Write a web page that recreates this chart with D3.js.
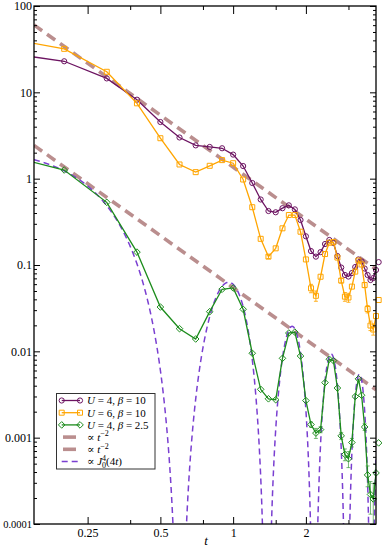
<!DOCTYPE html>
<html><head><meta charset="utf-8">
<script src="https://cdnjs.cloudflare.com/ajax/libs/d3/7.8.5/d3.min.js"></script>
<style>
body{margin:0;background:#fff}
svg{display:block}
svg text{font-family:"Liberation Serif","DejaVu Serif",serif !important;fill:#000}
</style>
</head><body>
<svg id="chart" width="382" height="547"></svg>
<script>
// ---------- data ----------
const tValues = [0.1,0.2,0.3,0.4,0.5,0.6,0.7,0.8,0.9,1.0,
                 1.1,1.2,1.3,1.4,1.5,1.6,1.7,1.8,1.9,2.0,
                 2.1,2.2,2.3,2.4,2.5,2.6,2.7,2.8,2.9,3.0,
                 3.1,3.2,3.3,3.4,3.5,3.6,3.7,3.8,3.9,4.0];
const seriesU4b10 = [30.1,22.9,14.5,8.22,4.53,3.0,2.43,2.33,2.25,1.90,
                     1.40,0.891,0.574,0.422,0.408,0.455,0.491,0.441,0.332,0.215,
                     0.145,0.125,0.141,0.175,0.195,0.18,0.127,0.0935,0.0766,0.0735,
                     0.0807,0.0948,0.116,0.11,0.091,0.0766,0.067,0.0706,0.0875,0.108];
const seriesU6b10 = [45.2,31.9,17.3,7.46,2.94,1.46,1.19,1.41,1.64,1.51,
                     0.978,0.467,0.201,0.125,0.156,0.266,0.379,0.379,0.243,0.116,
                     0.0537,0.044,0.0731,0.134,0.181,0.184,0.122,0.066,0.043,0.042,
                     0.0562,0.0838,0.1127,0.1014,0.0586,0.0309,0.0199,0.0179,0.0256,0.0393];
const seriesU4b25 = [2.06,1.26,0.532,0.141,0.0326,0.0183,0.0139,0.0288,0.0523,0.0542,
                     0.0307,0.0095,0.00363,0.00282,0.00275,0.0083,0.0163,0.0167,0.00883,0.00269,
                     0.00142,0.00113,0.00124,0.00434,0.0081,0.0078,0.00376,0.00105,0.00064,0.00057,
                     0.00088,0.003,0.0048,0.0031,0.00133,0.00037,0.00022,0.000195,0.00039,0.00087];
const errU4b10 = new Array(40).fill(0);
const errU6b10 = [0,0,0,0,0,0,0,0,0,0,
                  0,0,0,0.006,0,0,0,0,0,0,
                  0.006,0.006,0,0,0,0,0,0.004,0.005,0.005,
                  0,0,0,0,0.004,0.003,0.0025,0.0025,0,0];
const errU4b25 = [0,0,0,0,0,0,0,0,0,0,
                  0,0,0,0,0,0,0,0,0,0,
                  0.0001,0.00015,0.0001,0,0,0,0,0.0001,0.0001,0.00012,
                  0.0001,0,0,0,0.00012,0.0001,0.00009,0.0001,0.0001,0.0001];
const powerLawCoef = [1.36, 0.0547];   // two  ∝ t^-2 guides
const powerLawExp = [-2, -2];
const besselAmp = [2.4];               // ∝ J0^4(4t)
const besselArg = [4];
const xMajorTicks = [0.25, 0.5, 1, 2];
const xTickLabels = ["0.25", "0.5", "1", "2"];
const xMinorTicks = [0.375, 0.75, 1.5, 3];
const yMajorTicks = [1e-4, 1e-3, 1e-2, 1e-1, 1, 10, 100];
const yTickLabels = ["0.0001", "0.001", "0.01", "0.1", "1", "10", "100"];
const xDomain = [0.15, 3.9];
const yDomain = [1e-4, 100];

// ---------- layout ----------
const FONT = '"Liberation Serif","DejaVu Serif",serif';
const L = 34, R = 376, T = 6, B = 524;
const svg = d3.select("#chart");
const x = d3.scaleLog().domain(xDomain).range([L, R]);
const y = d3.scaleLog().domain(yDomain).range([B, T]);

svg.append("defs").append("clipPath").attr("id", "plotclip")
  .append("rect").attr("x", L).attr("y", T).attr("width", R - L).attr("height", B - T);

const COL_P = "#6c1361", COL_O = "#ffa500", COL_G = "#1c8c1c",
      COL_BR = "#ba8e8e", COL_V = "#7a3fd1";

// ---------- reference curves ----------
const refG = svg.append("g").attr("clip-path", "url(#plotclip)");
powerLawCoef.forEach((c, k) => {
  const pts = xDomain.map(t => [t, c * Math.pow(t, powerLawExp[k])]);
  refG.append("path")
    .attr("d", d3.line().x(d => x(d[0])).y(d => y(d[1]))(pts))
    .attr("fill", "none").attr("stroke", COL_BR).attr("stroke-width", 3.6)
    .attr("stroke-dasharray", "10,6");
});
function besselJ0(z) {
  let s = 0, term = 1; const q = -(z * z) / 4;
  for (let k = 0; k < 80; k++) { s += term; term *= q / ((k + 1) * (k + 1)); }
  return s;
}
const nS = 3000;
const besselPts = d3.range(nS + 1).map(i => {
  const t = Math.exp(Math.log(xDomain[0]) + (Math.log(xDomain[1]) - Math.log(xDomain[0])) * i / nS);
  const v = besselAmp[0] * Math.pow(besselJ0(besselArg[0] * t), 4);
  return [t, Math.max(v, 1e-12)];
});
refG.append("path")
  .attr("d", d3.line().x(d => x(d[0])).y(d => Math.min(y(d[1]), B + 40))(besselPts))
  .attr("fill", "none").attr("stroke", COL_V).attr("stroke-width", 1.5)
  .attr("stroke-dasharray", "6,4");

// ---------- data series ----------
const series = [
  {vals: seriesU4b10, err: errU4b10, color: COL_P, sym: "circle", errOpacity: 1},
  {vals: seriesU6b10, err: errU6b10, color: COL_O, sym: "square", errOpacity: 0.85},
  {vals: seriesU4b25, err: errU4b25, color: COL_G, sym: "diamond", errOpacity: 0.6}
];
function symbolPath(sym, cx, cy) {
  if (sym === "square") { const h = 2.5; return `M${cx-h},${cy-h}h${2*h}v${2*h}h${-2*h}Z`; }
  const h = 3.3; return `M${cx},${cy-h}L${cx+h},${cy}L${cx},${cy+h}L${cx-h},${cy}Z`;
}
function drawSymbol(g, sym, cx, cy, color) {
  if (sym === "circle") {
    g.append("circle").attr("cx", cx).attr("cy", cy).attr("r", 2.6)
      .attr("fill", "none").attr("stroke", color).attr("stroke-width", 1);
  } else {
    g.append("path").attr("d", symbolPath(sym, cx, cy))
      .attr("fill", "none").attr("stroke", color).attr("stroke-width", 1);
  }
}
series.forEach(s => {
  const data = tValues.map((t, i) => ({t, v: s.vals[i], e: s.err[i]}));
  svg.append("g").attr("clip-path", "url(#plotclip)").append("path")
    .attr("d", d3.line().x(d => x(d.t)).y(d => y(d.v))(data))
    .attr("fill", "none").attr("stroke", s.color).attr("stroke-width", 1.3);
  const gE = svg.append("g").attr("clip-path", "url(#plotclip)")
    .attr("stroke", s.color).attr("stroke-opacity", s.errOpacity).attr("stroke-width", 1);
  data.filter(d => d.e > 0).forEach(d => {
    const cx = x(d.t), y1 = y(d.v + d.e), y0 = y(Math.max(d.v - d.e, 1e-6));
    gE.append("line").attr("x1", cx).attr("x2", cx).attr("y1", y0).attr("y2", y1);
    gE.append("line").attr("x1", cx - 2).attr("x2", cx + 2).attr("y1", y0).attr("y2", y0);
    gE.append("line").attr("x1", cx - 2).attr("x2", cx + 2).attr("y1", y1).attr("y2", y1);
  });
  const gM = svg.append("g");
  data.filter(d => d.t >= xDomain[0]).forEach(d => drawSymbol(gM, s.sym, x(d.t), y(d.v), s.color));
});

// ---------- axes ----------
const yMinor = [];
for (let e = -4; e < 2; e++) for (let k = 2; k <= 9; k++) yMinor.push(k * Math.pow(10, e));

function styleAxis(g) {
  g.select(".domain").remove();
  g.attr("font-family", FONT);
  g.selectAll("line").attr("stroke", "#000");
}
svg.append("g").attr("transform", `translate(${L},0)`)
  .call(d3.axisLeft(y).tickValues(yMajorTicks).tickFormat((d, i) => yTickLabels[i])
        .tickSizeInner(-6).tickSizeOuter(0).tickPadding(2))
  .call(styleAxis)
  .call(g => g.selectAll("text").attr("font-size", (d, i) => i === 0 ? 10.5 : 12)
        .style("font-family", FONT));
svg.append("g").attr("transform", `translate(${L},0)`)
  .call(d3.axisLeft(y).tickValues(yMinor).tickFormat("").tickSizeInner(-3).tickSizeOuter(0))
  .call(styleAxis);
svg.append("g").attr("transform", `translate(${R},0)`)
  .call(d3.axisRight(y).tickValues(yMajorTicks).tickFormat("").tickSizeInner(-6).tickSizeOuter(0))
  .call(styleAxis);
svg.append("g").attr("transform", `translate(${R},0)`)
  .call(d3.axisRight(y).tickValues(yMinor).tickFormat("").tickSizeInner(-3).tickSizeOuter(0))
  .call(styleAxis);
svg.append("g").attr("transform", `translate(0,${B})`)
  .call(d3.axisBottom(x).tickValues(xMajorTicks).tickFormat((d, i) => xTickLabels[i])
        .tickSizeInner(-7).tickSizeOuter(0).tickPadding(4))
  .call(styleAxis)
  .call(g => g.selectAll("text").attr("font-size", 12).style("font-family", FONT));
svg.append("g").attr("transform", `translate(0,${B})`)
  .call(d3.axisBottom(x).tickValues(xMinorTicks).tickFormat("").tickSizeInner(-4).tickSizeOuter(0))
  .call(styleAxis);
svg.append("g").attr("transform", `translate(0,${T})`)
  .call(d3.axisTop(x).tickValues(xMajorTicks).tickFormat("").tickSizeInner(-8).tickSizeOuter(0))
  .call(styleAxis);
svg.append("g").attr("transform", `translate(0,${T})`)
  .call(d3.axisTop(x).tickValues(xMinorTicks).tickFormat("").tickSizeInner(-4).tickSizeOuter(0))
  .call(styleAxis);

svg.append("rect").attr("x", L).attr("y", T).attr("width", R - L).attr("height", B - T)
  .attr("fill", "none").attr("stroke", "#000").attr("stroke-width", 1.3);

svg.append("text").attr("x", 206).attr("y", 545).attr("text-anchor", "middle")
  .attr("font-size", 13).attr("font-style", "italic").style("font-family", FONT).text("t");

// ---------- legend ----------
const lg = svg.append("g");
lg.append("rect").attr("x", 56.5).attr("y", 393.5).attr("width", 98.5).attr("height", 75.5)
  .attr("fill", "#fff").attr("stroke", "#333").attr("stroke-width", 1);
const rowY = i => 400.5 + i * 12.2;
const lx0 = 61.7, lx1 = 80, tx = 87;
[[COL_P, "circle", "4", "10"], [COL_O, "square", "6", "10"], [COL_G, "diamond", "4", "2.5"]]
  .forEach(([c, sym, u, b], i) => {
    const yy = rowY(i);
    lg.append("line").attr("x1", lx0).attr("x2", lx1).attr("y1", yy).attr("y2", yy)
      .attr("stroke", c).attr("stroke-width", 1.3);
    drawSymbol(lg, sym, lx0, yy, c); drawSymbol(lg, sym, lx1, yy, c);
    const tt = lg.append("text").attr("x", tx).attr("y", yy + 3.8).attr("font-size", 11)
      .style("font-family", FONT);
    tt.append("tspan").attr("font-style", "italic").text("U");
    tt.append("tspan").text(" = " + u + ", ");
    tt.append("tspan").attr("font-style", "italic").text("β");
    tt.append("tspan").text(" = " + b);
  });
[3, 4].forEach(i => {
  const yy = rowY(i);
  lg.append("line").attr("x1", 63).attr("x2", 76).attr("y1", yy).attr("y2", yy)
    .attr("stroke", COL_BR).attr("stroke-width", 3.6);
  const tt = lg.append("text").attr("x", tx).attr("y", yy + 3.8).attr("font-size", 11)
    .style("font-family", FONT);
  tt.append("tspan").text("∝ ");
  tt.append("tspan").attr("font-style", "italic").text("t");
  tt.append("tspan").attr("dy", -4.5).attr("font-size", 8).text("−2");
});
{
  const yy = rowY(5);
  lg.append("line").attr("x1", 61.7).attr("x2", 80).attr("y1", yy).attr("y2", yy)
    .attr("stroke", COL_V).attr("stroke-width", 1.5).attr("stroke-dasharray", "6,4");
  const tt = lg.append("text").attr("x", tx).attr("y", yy + 3.8).attr("font-size", 11)
    .style("font-family", FONT);
  tt.append("tspan").text("∝ ");
  tt.append("tspan").attr("font-style", "italic").text("J");
  tt.append("tspan").attr("dy", -4.5).attr("font-size", 8).text("4");
  tt.append("tspan").attr("dx", -4).attr("dy", 7.5).attr("font-size", 8).text("0");
  tt.append("tspan").attr("dy", -3).text("(4");
  tt.append("tspan").attr("font-style", "italic").text("t");
  tt.append("tspan").text(")");
}
</script>
</body></html>
